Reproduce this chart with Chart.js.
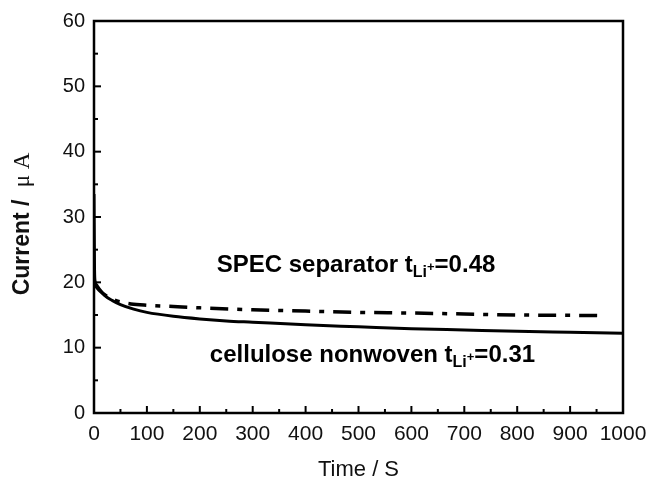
<!DOCTYPE html>
<html><head><meta charset="utf-8">
<script src="https://cdn.jsdelivr.net/npm/chart.js@4"></script>
<style>html,body{margin:0;padding:0;background:#fff}#wrap{width:652px;height:483px}</style>
</head><body><div id="wrap"><canvas id="c" width="652" height="483"></canvas></div>
<script>
const cellTime = [0, 1, 2, 5, 10, 20, 35, 50, 75, 100, 150, 200, 250, 300, 400, 500, 600, 700, 800, 900, 1000];
const cellCurrent = [33.5, 22, 20.2, 19.6, 19.0, 18.0, 17.2, 16.6, 15.9, 15.4, 14.8, 14.4, 14.1, 13.9, 13.5, 13.2, 12.9, 12.7, 12.5, 12.35, 12.2];
const specTime = [0, 10, 30, 50, 70, 100, 150, 200, 300, 400, 500, 600, 700, 800, 900, 965];
const specCurrent = [19.8, 18.8, 17.6, 17.0, 16.7, 16.5, 16.3, 16.1, 15.8, 15.6, 15.4, 15.3, 15.15, 15.0, 14.95, 14.9];
const xTicks = [0,100,200,300,400,500,600,700,800,900,1000];
const yTicks = [0,10,20,30,40,50,60];
const labelSpec = {main:"SPEC separator t", sub:"Li", sup:"+", tail:"=0.48", x:232, y:21.6};
const labelCell = {main:"cellulose nonwoven t", sub:"Li", sup:"+", tail:"=0.31", x:219, y:7.85};

const toPts = (xs, ys) => xs.map((x,i)=>({x:x,y:ys[i]}));
const FONT = "'Liberation Sans', Arial, sans-serif";

const framePlugin = {
  id:'frame',
  afterDraw(chart){
    const {ctx, chartArea:a, scales:{x,y}} = chart;
    ctx.save();
    ctx.strokeStyle='#000';
    ctx.lineWidth=2.5;
    ctx.strokeRect(a.left, a.top, a.right-a.left, a.bottom-a.top);
    ctx.lineWidth=2;
    for(let v=0; v<=1000; v+=50){
      const px = x.getPixelForValue(v);
      const len = v%100===0 ? 7 : 4;
      ctx.beginPath(); ctx.moveTo(px, a.bottom); ctx.lineTo(px, a.bottom-len); ctx.stroke();
    }
    for(let v=0; v<=60; v+=5){
      const py = y.getPixelForValue(v);
      const len = v%10===0 ? 7 : 4;
      ctx.beginPath(); ctx.moveTo(a.left, py); ctx.lineTo(a.left+len, py); ctx.stroke();
    }
    // annotations
    ctx.fillStyle='#000';
    ctx.textBaseline='alphabetic';
    ctx.textAlign='left';
    [labelSpec,labelCell].forEach(L=>{
      let sx = x.getPixelForValue(L.x); const py = y.getPixelForValue(L.y);
      ctx.font = "bold 24px " + FONT;
      ctx.fillText(L.main, sx, py); sx += ctx.measureText(L.main).width;
      ctx.font = "bold 16px " + FONT;
      ctx.fillText(L.sub, sx, py+5); sx += ctx.measureText(L.sub).width;
      ctx.font = "bold 13px " + FONT;
      ctx.fillText(L.sup, sx, py-1); sx += ctx.measureText(L.sup).width;
      ctx.font = "bold 24px " + FONT;
      ctx.fillText(L.tail, sx, py);
    });
    // y title
    ctx.save();
    ctx.translate(23, (a.top+a.bottom)/2 + 7);
    ctx.rotate(-Math.PI/2);
    ctx.textBaseline='middle';
    const t1 = "Current / ", t2 = " μ A";
    ctx.font = "bold 23px " + FONT;
    const w1 = ctx.measureText(t1).width;
    ctx.font = "23px 'Liberation Serif', serif";
    const w2 = ctx.measureText(t2).width;
    let tx = -(w1+w2)/2;
    ctx.font = "bold 23px " + FONT;
    ctx.fillStyle = '#111';
    ctx.fillText(t1, tx, 0);
    ctx.font = "23px 'Liberation Serif', serif";
    ctx.fillText(t2, tx+w1, 0);
    ctx.restore();
    ctx.restore();
  }
};

new Chart(document.getElementById('c'), {
  type:'line',
  data:{datasets:[
    {label:'cellulose', data:toPts(cellTime, cellCurrent), borderColor:'#000', borderWidth:3, pointRadius:0, cubicInterpolationMode:'monotone', fill:false},
    {label:'SPEC', data:toPts(specTime, specCurrent), borderColor:'#000', borderWidth:3.5, borderDash:[18,9,5,9], pointRadius:0, cubicInterpolationMode:'monotone', fill:false}
  ]},
  plugins:[framePlugin],
  options:{
    responsive:false, animation:false,
    layout:{padding:{left:0, right:29, top:21, bottom:0}},
    plugins:{legend:{display:false}, tooltip:{enabled:false}},
    scales:{
      x:{type:'linear', min:0, max:1000,
        afterBuildTicks(s){ s.ticks = xTicks.map(v=>({value:v})); },
        afterFit(s){ s.height = 70; s.paddingRight = 0; s.paddingLeft = 0; },
        grid:{display:false, drawTicks:false}, border:{display:false},
        ticks:{color:'#111', font:{family:FONT, size:21}, padding:9, maxRotation:0, autoSkip:false, callback:v=>String(v)},
        title:{display:true, text:'Time / S', color:'#111', font:{family:FONT, size:22}, padding:{top:0, bottom:0}}
      },
      y:{type:'linear', min:0, max:60,
        afterBuildTicks(s){ s.ticks = yTicks.map(v=>({value:v})); },
        afterFit(s){ s.width = 94; },
        grid:{display:false, drawTicks:false}, border:{display:false},
        ticks:{color:'#111', font:{family:FONT, size:20}, padding:9, autoSkip:false, callback:v=>String(v)},
        title:{display:false}
      }
    }
  }
});
</script></body></html>
